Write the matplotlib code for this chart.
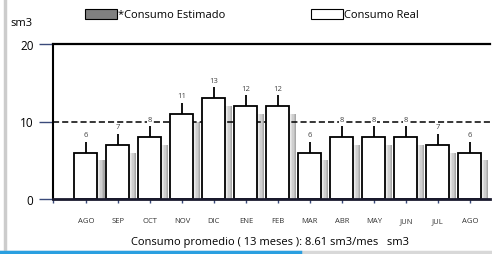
import numpy as np
import matplotlib.pyplot as plt
from matplotlib.lines import Line2D
from matplotlib.patches import Rectangle

plt.rcParams["font.family"] = ["Open Sans", "DejaVu Sans"]

# data
months = ["AGO", "SEP", "OCT", "NOV", "DIC", "ENE", "FEB",
          "MAR", "ABR", "MAY", "JUN", "JUL", "AGO"]
real = [6, 7, 8, 11, 13, 12, 12, 6, 8, 8, 8, 7, 6]
estimado = [5, 6, 7, 10, 12, 11, 11, 5, 7, 7, 7, 6, 5]
promedio = 8.61
ref_line = 10

fig = plt.figure(figsize=(4.92, 2.55), dpi=100)
ax = fig.add_axes([53 / 492, 1 - 200 / 255, 437 / 492, 155 / 255])

x = np.arange(len(months))
w = 0.72

# shadow / estimated bars, gradient in slices
shades = ["#a8a8a8", "#bdbdbd", "#cfcfcf", "#dedede", "#ebebeb"]
for i, c in enumerate(shades):
    off = 0.22 * (len(shades) - i) / len(shades)
    ax.bar(x + off, estimado, width=w, color=c, edgecolor="none", zorder=1)

ax.axhline(ref_line, color="black", lw=1.1, ls=(0, (4, 2)), zorder=1.5)
ax.axhline(20, color="black", lw=1.6, zorder=1.5, clip_on=False)

ax.bar(x, real, width=w, color="white", edgecolor="black", lw=1.3, zorder=2)

for xi, v in zip(x, real):
    ax.plot([xi, xi], [v, v + 1.4], color="black", lw=1.3, zorder=2,
            solid_capstyle="butt")
    ax.text(xi, v + 2.3, str(v), ha="center", va="center", fontsize=5.5,
            color="#444444", zorder=3,
            bbox=dict(facecolor="white", edgecolor="none", pad=0.6))

ax.set_xlim(-1.03, 12.63)
ax.set_ylim(0, 20)
ax.set_yticks([0, 10, 20])
ax.set_xticks(np.concatenate([[-1.03], x]))
ax.set_xticklabels([""] + months)
ax.tick_params(axis="y", length=10, width=1, color="#3a4a7a", labelsize=8.5,
               pad=4)
ax.tick_params(axis="x", length=3, width=1, color="#3a4a7a", labelsize=5.5,
               labelcolor="#333333", pad=10)
for s in ["top", "right"]:
    ax.spines[s].set_visible(False)
ax.spines["left"].set_linewidth(1.5)
ax.spines["bottom"].set_linewidth(2)
ax.spines["bottom"].set_color("#1a1a2e")

fig.text(10 / 492, 1 - 24 / 255, "sm3", fontsize=8, va="center", ha="left")
fig.text(270 / 492, 1 - 243 / 255,
         "Consumo promedio ( 13 meses ): %.2f sm3/mes   sm3" % promedio,
         fontsize=8, ha="center", va="center")

# legend
fig.patches.append(Rectangle((85 / 492, 1 - 20 / 255), 32 / 492, 10 / 255,
                             transform=fig.transFigure, facecolor="#808080",
                             edgecolor="black", lw=0.8))
fig.text(118 / 492, 1 - 15 / 255, "*Consumo Estimado", fontsize=8, va="center")
fig.patches.append(Rectangle((311 / 492, 1 - 20 / 255), 32 / 492, 10 / 255,
                             transform=fig.transFigure, facecolor="white",
                             edgecolor="black", lw=0.8))
fig.text(344 / 492, 1 - 15 / 255, "Consumo Real", fontsize=8, va="center")

# frame lines
fig.lines.append(Line2D([5 / 492, 5 / 492], [0, 1], transform=fig.transFigure,
                        color="#cccccc", lw=2.5))
fig.lines.append(Line2D([0, 1], [2 / 255, 2 / 255], transform=fig.transFigure,
                        color="#d8d8d8", lw=2.5))
fig.lines.append(Line2D([0, 300 / 492], [2 / 255, 2 / 255],
                        transform=fig.transFigure, color="#2a9fe0", lw=2.5))

fig.savefig("out.png", dpi=100)
